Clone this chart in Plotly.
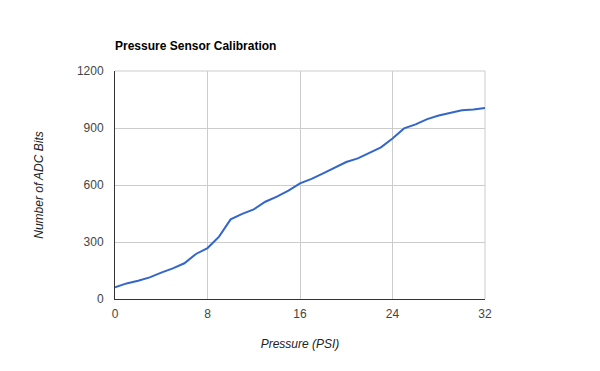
import plotly.graph_objects as go

pressure_psi = list(range(0, 33))
adc_bits = [61, 82, 96, 114, 139, 161, 188, 237, 268, 328, 419, 448, 472, 512, 539,
            570, 609, 632, 661, 693, 721, 740, 768, 798, 845, 898, 919, 947, 966,
            979, 993, 998, 1005]
x_ticks = [0, 8, 16, 24, 32]
y_ticks = [0, 300, 600, 900, 1200]

fig = go.Figure()
fig.add_trace(go.Scatter(x=pressure_psi, y=adc_bits, mode="lines",
                         line=dict(color="#3366cc", width=2), hoverinfo="x+y"))

font = "Arial, Liberation Sans, sans-serif"
fig.update_layout(
    width=600, height=371,
    margin=dict(l=107, r=123, t=63, b=80),
    paper_bgcolor="white", plot_bgcolor="white",
    showlegend=False,
    font=dict(family=font, size=12, color="#444444"),
    title=dict(text="<b>Pressure Sensor Calibration</b>", x=107/600, xanchor="left",
               y=1-38/371, yanchor="middle", font=dict(family=font, size=12, color="#000000")),
    xaxis=dict(range=[0, 32], tickvals=x_ticks, ticktext=[str(v) for v in x_ticks],
               showgrid=True, gridcolor="#cccccc", gridwidth=1, zeroline=False,
               showline=True, linecolor="#333333", linewidth=1, mirror=False,
               ticks="", ticklabelstandoff=4, tickfont=dict(size=12, color="#444444"),
               title=dict(text="<i>Pressure (PSI)</i>", standoff=19,
                          font=dict(size=12, color="#222222"))),
    yaxis=dict(range=[0, 1200], tickvals=y_ticks, ticktext=[str(v) for v in y_ticks],
               showgrid=True, gridcolor="#cccccc", gridwidth=1, zeroline=False,
               showline=True, linecolor="#333333", linewidth=1,
               ticks="", ticklabelstandoff=8, tickfont=dict(size=12, color="#444444"),
               title=dict(text="<i>Number of ADC Bits</i>", standoff=30,
                          font=dict(size=12, color="#222222"))),
    shapes=[
        dict(type="line", xref="paper", yref="paper", x0=0, x1=1, y0=1, y1=1,
             line=dict(color="#cccccc", width=1), layer="below"),
        dict(type="line", xref="paper", yref="paper", x0=1, x1=1, y0=0, y1=1,
             line=dict(color="#cccccc", width=1), layer="below"),
    ],
)
fig.write_html("out.html")
